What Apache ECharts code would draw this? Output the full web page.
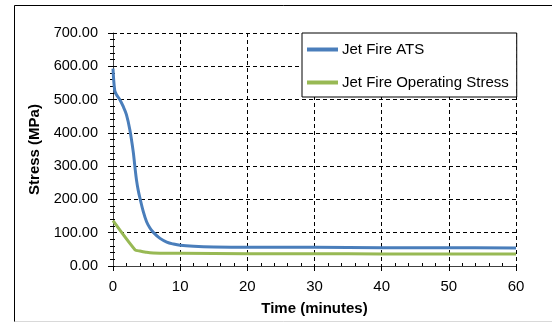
<!DOCTYPE html>
<html>
<head>
<meta charset="utf-8">
<script src="https://cdn.jsdelivr.net/npm/echarts@6/dist/echarts.min.js"></script>
<style>
html,body{margin:0;padding:0;background:#fff;}
#chart{width:552px;height:322px;}
</style>
</head>
<body>
<div id="chart"></div>
<script>
var seriesNames = ['Jet Fire ATS', 'Jet Fire Operating Stress'];
var atsTime = [0, 0.25, 0.5, 1, 1.5, 2, 2.5, 3, 3.25, 3.5, 3.75, 4, 4.5, 5, 5.5, 6, 7, 8, 9, 10, 12, 15, 20, 30, 40, 50, 60];
var atsValues = [593, 528, 515, 500, 480, 455, 410, 345, 300, 258, 228, 205, 164, 133, 114, 101, 83, 72, 66, 62, 59, 57, 56, 56, 55, 55, 54];
var opTime = [0, 3.3, 4, 5, 6, 8, 10, 20, 30, 40, 50, 60];
var opValues = [136, 48, 45, 41, 39, 38, 38, 37, 37, 36, 36, 36];
var xTicks = [0, 10, 20, 30, 40, 50, 60];
var yTicks = [0, 100, 200, 300, 400, 500, 600, 700];

function pairs(t, v) { return t.map(function (x, i) { return [x, v[i]]; }); }

var font = 'Liberation Sans, Arial, sans-serif';
var chart = echarts.init(document.getElementById('chart'), null, {renderer: 'canvas'});
var xBase = {
  type: 'value', min: xTicks[0], max: xTicks[xTicks.length - 1], interval: 10, position: 'bottom'
};
var yBase = {
  type: 'value', min: yTicks[0], max: yTicks[yTicks.length - 1], interval: 100, position: 'left'
};
chart.setOption({
  animation: false,
  backgroundColor: '#fff',
  textStyle: {fontFamily: font},
  grid: {left: 113, right: 36, top: 33, bottom: 56, containLabel: false},
  graphic: [
    {type: 'line', shape: {x1: 14.5, y1: 5.5, x2: 552, y2: 5.5}, style: {stroke: '#000', lineWidth: 1}, silent: true},
    {type: 'line', shape: {x1: 14.5, y1: 5.5, x2: 14.5, y2: 322}, style: {stroke: '#000', lineWidth: 1}, silent: true},
    {type: 'line', shape: {x1: 14.5, y1: 321.5, x2: 552, y2: 321.5}, style: {stroke: '#d9d9d9', lineWidth: 1}, silent: true}
  ],
  legend: {
    data: seriesNames,
    orient: 'vertical',
    left: 302, top: 33,
    padding: [9, 8, 7, 5],
    itemGap: 18,
    itemWidth: 31, itemHeight: 4,
    icon: 'rect',
    backgroundColor: '#fff',
    borderColor: '#000', borderWidth: 1,
    textStyle: {fontFamily: font, fontSize: 15, color: '#000', padding: [0, 0, 0, -1]}
  },
  xAxis: [
    Object.assign({}, xBase, {
      name: 'Time (minutes)', nameLocation: 'middle', nameGap: 35,
      nameTextStyle: {fontFamily: font, fontSize: 15, fontWeight: 'bold', color: '#000'},
      axisLine: {show: true, lineStyle: {color: '#404040', width: 1}},
      axisTick: {show: true, length: 5, lineStyle: {color: '#000'}},
      axisLabel: {fontFamily: font, fontSize: 15, color: '#000', margin: 13},
      splitLine: {show: true, lineStyle: {color: '#000', type: [4, 3], width: 1}},
      minorTick: {show: false}
    }),
    Object.assign({}, xBase, {
      axisLine: {show: false},
      axisTick: {show: false, inside: true},
      axisLabel: {show: false},
      splitLine: {show: false},
      minorTick: {show: true, splitNumber: 5, length: 3, lineStyle: {color: '#000'}}
    })
  ],
  yAxis: [
    Object.assign({}, yBase, {
      name: 'Stress (MPa)', nameLocation: 'middle', nameGap: 70,
      nameTextStyle: {fontFamily: font, fontSize: 15, fontWeight: 'bold', color: '#000'},
      axisLine: {show: true, lineStyle: {color: '#404040', width: 1}},
      axisTick: {show: true, length: 5, lineStyle: {color: '#000'}},
      axisLabel: {fontFamily: font, fontSize: 14.5, color: '#000', margin: 15,
        formatter: function (v) { return v.toFixed(2); }},
      splitLine: {show: true, lineStyle: {color: '#000', type: [4, 3], width: 1}},
      minorTick: {show: true, splitNumber: 5, length: 3, lineStyle: {color: '#000'}}
    }),
    Object.assign({}, yBase, {
      axisLine: {show: false},
      axisTick: {show: true, inside: true, length: 2, lineStyle: {color: '#000'}},
      axisLabel: {show: false},
      splitLine: {show: false},
      minorTick: {show: true, splitNumber: 5, length: 2, lineStyle: {color: '#000'}}
    })
  ],
  series: [
    {
      name: seriesNames[0], type: 'line', xAxisIndex: 0, yAxisIndex: 0,
      data: pairs(atsTime, atsValues), smooth: 0.35, showSymbol: false, symbol: 'none',
      lineStyle: {color: '#4A7EBB', width: 3}, itemStyle: {color: '#4A7EBB'}, z: 3
    },
    {
      name: seriesNames[1], type: 'line', xAxisIndex: 0, yAxisIndex: 0,
      data: pairs(opTime, opValues), smooth: 0.2, showSymbol: false, symbol: 'none',
      lineStyle: {color: '#98B954', width: 3}, itemStyle: {color: '#98B954'}, z: 2
    }
  ]
});
</script>
</body>
</html>
